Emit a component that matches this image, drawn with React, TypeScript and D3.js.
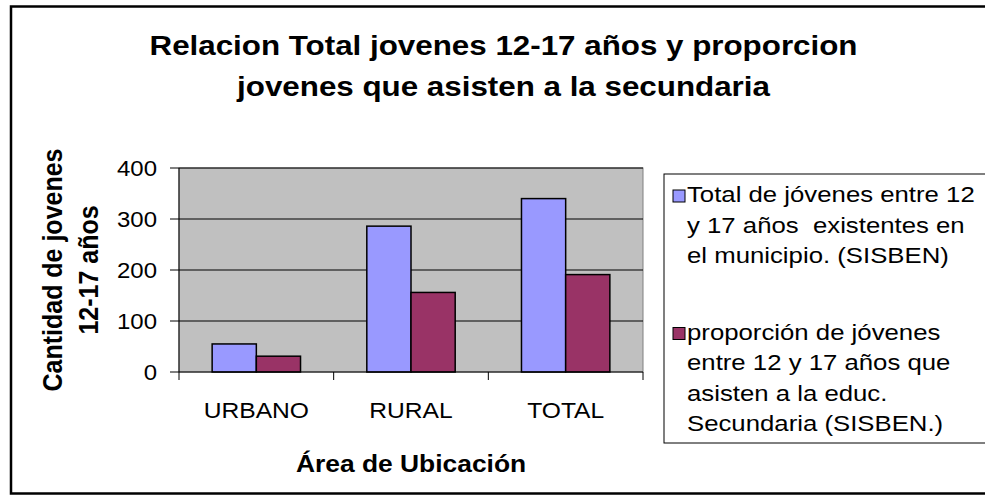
import React from 'react';
import * as d3 from 'd3';

const categories = ['URBANO', 'RURAL', 'TOTAL'];
const totalJovenes = [55, 286, 340];
const asistenSecundaria = [31, 156, 191];
const yTicks = [0, 100, 200, 300, 400];

const titleLines = ['Relacion Total jovenes 12-17 años y proporcion', 'jovenes que asisten a la secundaria'];
const yTitleLines = ['Cantidad de jovenes', '12-17 años'];
const xTitle = 'Área de Ubicación';
const legendEntries = [
  { color: '#9999FF', lines: ['Total de jóvenes entre 12', 'y 17 años  existentes en', 'el municipio. (SISBEN)'] },
  { color: '#993366', lines: ['proporción de jóvenes', 'entre 12 y 17 años que', 'asisten a la educ.', 'Secundaria (SISBEN.)'] },
];

const W = 985;
const H = 498;
const FONT = 'Arial, "Liberation Sans", sans-serif';

const plot = { left: 179, right: 643, top: 168, bottom: 372 };

// the source picture is stretched sideways, so text gets a horizontal scale
const SText = ({ x, y, size, sx = 1.12, bold = false, anchor = 'start', children }: any) => (
  <text
    transform={`translate(${x},${y}) scale(${sx},1)`}
    fontSize={size}
    fontWeight={bold ? 'bold' : 'normal'}
    fontFamily={FONT}
    textAnchor={anchor}
    fill="#000"
    style={{ whiteSpace: 'pre' }}
  >
    {children}
  </text>
);

export default function App() {
  const x = d3.scaleBand<string>()
    .domain(categories)
    .range([plot.left, plot.right])
    .paddingInner(1.5 / 3.5)
    .paddingOuter(0.75 / 3.5);

  const xInner = d3.scaleBand<number>()
    .domain([0, 1])
    .range([0, x.bandwidth()]);

  const y = d3.scaleLinear().domain([0, 400]).range([plot.bottom, plot.top]);

  const series = [totalJovenes, asistenSecundaria];
  const step = x.step();
  const catEdges = d3.range(categories.length + 1).map(i => plot.left + i * step);

  const legendTop = [202, 339.5];
  const lineH = 30.5;

  return (
    <svg width={W} height={H} style={{ position: 'absolute', left: 0, top: 0, background: '#fff' }}>
      <rect x={0} y={0} width={W} height={H} fill="#fff" />
      {/* chart frame */}
      <rect x={11} y={6.5} width={990} height={487} fill="none" stroke="#000" strokeWidth={2.5} />

      {/* title */}
      {titleLines.map((t, i) => (
        <SText key={i} x={503.5} y={55 + i * 41} size={28.5} sx={1.1} bold anchor="middle">{t}</SText>
      ))}

      {/* plot area */}
      <rect x={plot.left} y={plot.top} width={plot.right - plot.left} height={plot.bottom - plot.top}
        fill="#C0C0C0" stroke="#808080" strokeWidth={1} />
      {yTicks.filter(v => v > 0).map(v => (
        <line key={v} x1={plot.left} x2={plot.right} y1={y(v)} y2={y(v)} stroke="#000" strokeWidth={1} />
      ))}

      {/* bars */}
      {series.map((vals, s) => vals.map((v, i) => (
        <rect key={`${s}-${i}`}
          x={(x(categories[i]) as number) + (xInner(s) as number)}
          y={y(v)}
          width={xInner.bandwidth()}
          height={y(0) - y(v)}
          fill={legendEntries[s].color}
          stroke="#000" strokeWidth={1.5} />
      )))}

      {/* y axis */}
      <line x1={plot.left} x2={plot.left} y1={plot.top} y2={plot.bottom} stroke="#000" strokeWidth={1} />
      {yTicks.map(v => (
        <g key={v}>
          <line x1={plot.left - 9} x2={plot.left} y1={y(v)} y2={y(v)} stroke="#000" strokeWidth={1} />
          <SText x={157} y={y(v) + 8} size={22} sx={1.09} anchor="end">{v}</SText>
        </g>
      ))}

      {/* x axis */}
      <line x1={plot.left} x2={plot.right} y1={plot.bottom} y2={plot.bottom} stroke="#000" strokeWidth={1} />
      {catEdges.map((cx, i) => (
        <line key={i} x1={cx} x2={cx} y1={plot.bottom} y2={plot.bottom + 8} stroke="#000" strokeWidth={1} />
      ))}
      {categories.map(c => (
        <SText key={c} x={(x(c) as number) + x.bandwidth() / 2} y={418} size={22} anchor="middle">{c}</SText>
      ))}

      {/* axis titles */}
      <SText x={(plot.left + plot.right) / 2} y={472} size={24} sx={1.1} bold anchor="middle">{xTitle}</SText>
      {yTitleLines.map((t, i) => (
        <text key={i}
          transform={`translate(${62 + i * 36},${(plot.top + plot.bottom) / 2}) rotate(-90) scale(1,1.1)`}
          fontSize={25} fontWeight="bold" fontFamily={FONT} textAnchor="middle">
          {t}
        </text>
      ))}

      {/* legend */}
      <rect x={664} y={174} width={340} height={269} fill="#fff" stroke="#000" strokeWidth={1} />
      {legendEntries.map((e, k) => (
        <g key={k}>
          <rect x={673} y={legendTop[k] - 12} width={12} height={12} fill={e.color} stroke="#000" strokeWidth={1} />
          {e.lines.map((l, j) => (
            <SText key={j} x={687} y={legendTop[k] + j * lineH} size={23}>{l}</SText>
          ))}
        </g>
      ))}
    </svg>
  );
}
